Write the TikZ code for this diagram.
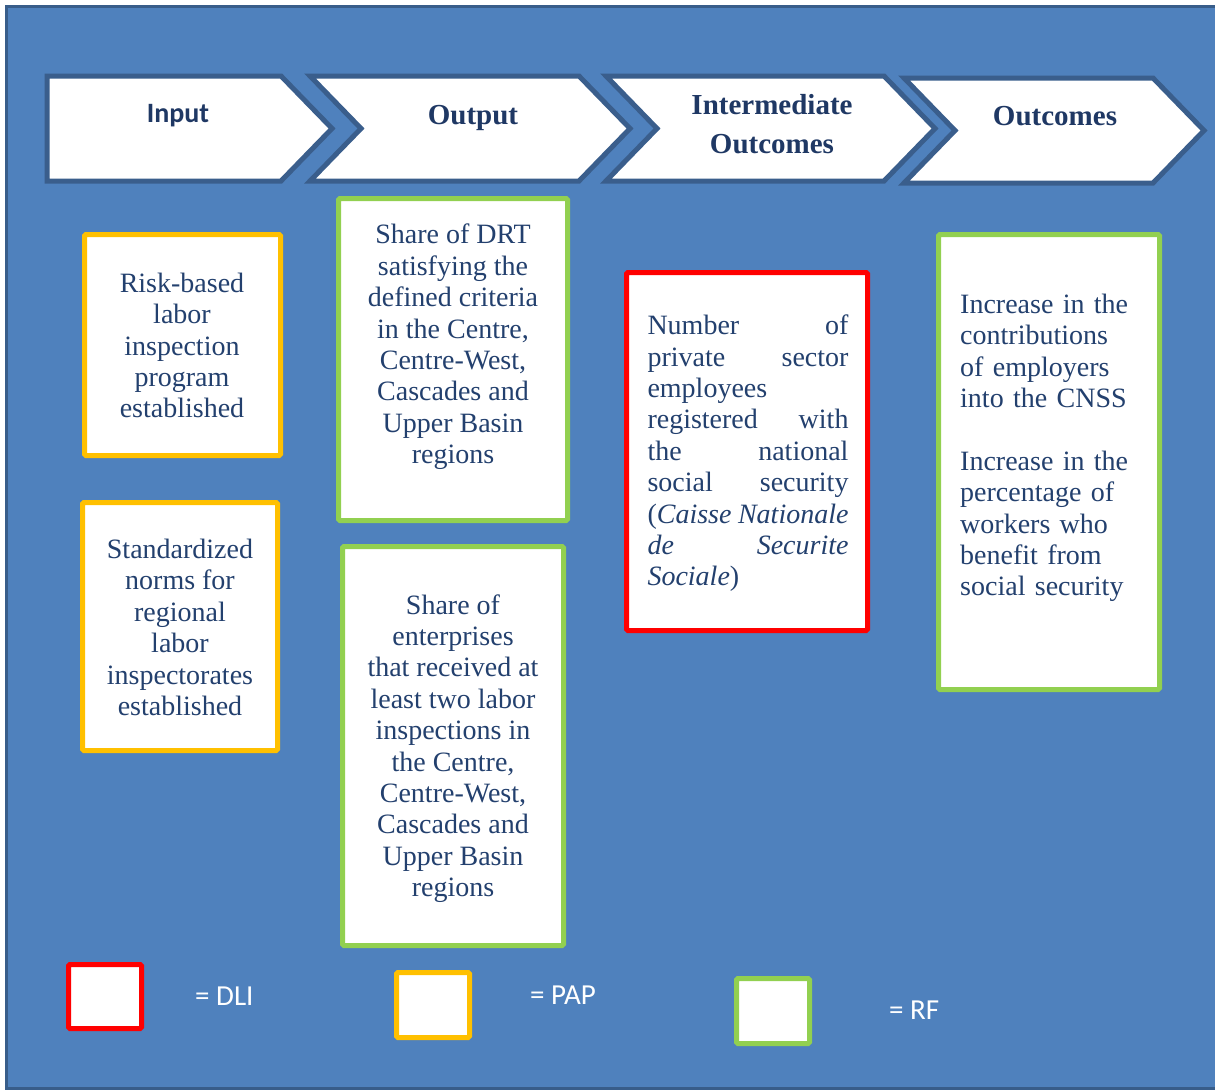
\documentclass[tikz,border=0pt]{standalone}
\usepackage{fontspec}
\setmainfont{Liberation Serif}
\newfontfamily\calib{Carlito}
\definecolor{bgblue}{HTML}{4F81BD}
\definecolor{frameblue}{HTML}{385D8A}
\definecolor{chevborder}{HTML}{3A5E8C}
\definecolor{headtxt}{HTML}{1F3864}
\definecolor{boxtxt}{HTML}{23406E}
\definecolor{pap}{HTML}{FFC000}
\definecolor{rf}{HTML}{92D050}
\definecolor{dli}{HTML}{FF0000}
\newcommand\jline[2]{\makebox[201pt][l]{#1\hfill#2}}
\begin{document}
\begin{tikzpicture}[x=1pt,y=-1pt,
  chev/.style={draw=chevborder,line width=5pt,fill=white,line join=miter},
  headserif/.style={font=\fontsize{29}{39}\selectfont\bfseries,text=headtxt,align=center,anchor=base,inner sep=0pt},
  boxframe/.style={draw=#1,line width=5pt,fill=white,rounded corners=1.5pt,inner sep=0pt},
  boxtext/.style={font=\fontsize{28}{31.4}\selectfont,text=boxtxt,align=center,inner sep=0pt},
  legtext/.style={font=\calib\fontsize{29}{32}\selectfont,text=white,anchor=west,inner sep=0pt}]
\useasboundingbox[fill=white] (0,0) rectangle (1215,1090);
\draw[fill=bgblue,draw=frameblue,line width=3pt] (6,6) rectangle (1220,1088);
% chevrons
\draw[chev] (47,76) -- (281,76) -- (332,128.5) -- (281,181) -- (47,181) -- cycle;
\draw[chev] (310,76) -- (579,76) -- (630,128.5) -- (579,181) -- (310,181) -- (361,128.5) -- cycle;
\draw[chev] (606,76) -- (884,76) -- (935,128.5) -- (884,181) -- (606,181) -- (657,128.5) -- cycle;
\draw[chev] (904,78) -- (1153,78) -- (1204,130.5) -- (1153,183) -- (904,183) -- (955,130.5) -- cycle;
\node[font=\calib\fontsize{28}{32}\selectfont\bfseries,text=headtxt,anchor=base,inner sep=0pt] (hin) at (178,122) {Input};
\node[headserif] (hout) at (473,124.5) {Output};
\node[headserif,anchor=north] (hint) at (772,94) {Intermediate\\Outcomes};
\node[headserif] (houtc) at (1055,125) {Outcomes};
% boxes
\node[boxframe=pap,minimum width=196pt,minimum height=221pt] (b1) at (182.5,345) {};
\node[boxtext] (t1) at (182,345.5) {Risk-based\\labor\\inspection\\program\\established};
\node[boxframe=pap,minimum width=195pt,minimum height=248pt] (b2) at (180,626.5) {};
\node[boxtext] (t2) at (180,627.5) {Standardized\\norms for\\regional\\labor\\inspectorates\\established};
\node[boxframe=rf,minimum width=229pt,minimum height=322pt] (o1) at (453,359.5) {};
\node[boxtext] (t3) at (453,347) {Share of DRT\\satisfying the\\defined criteria\\in the Centre,\\Centre-West,\\Cascades and\\Upper Basin\\regions};
\node[boxframe=rf,minimum width=221pt,minimum height=399pt] (o2) at (453,746) {};
\node[boxtext] (t4) at (453,748.5) {Share of\\enterprises\\that received at\\least two labor\\inspections in\\the Centre,\\Centre-West,\\Cascades and\\Upper Basin\\regions};
\node[boxframe=dli,minimum width=241pt,minimum height=358pt] (r1) at (747,451.5) {};
\node[boxtext,align=left,text width=201pt] (t5) at (748,453.5) {\jline{Number}{of}\\\jline{private}{sector}\\employees\\\jline{registered}{with}\\\jline{the}{national}\\\jline{social}{security}\\\makebox[201pt][l]{(\textit{Caisse}\hspace{4pt plus 1fill}\textit{Nationale}}\\\jline{\textit{de}}{\textit{Securite}}\\\textit{Sociale})};
\node[boxframe=rf,minimum width=221pt,minimum height=455pt] (c1) at (1049,462) {};
\node[boxtext,align=left,text width=200pt,anchor=west] (t6) at (960,448) {Increase in the\\contributions\\of employers\\into the CNSS\\[31.4pt]Increase in the\\percentage of\\workers who\\benefit from\\social security};
% legend
\node[boxframe=dli,minimum width=73pt,minimum height=64pt] (l1) at (105,996.5) {};
\node[legtext] (lt1) at (195,996) {= DLI};
\node[boxframe=pap,minimum width=73pt,minimum height=65pt] (l2) at (433,1005) {};
\node[legtext] (lt2) at (530,995) {= PAP};
\node[boxframe=rf,minimum width=73pt,minimum height=65pt] (l3) at (773,1011) {};
\node[legtext] (lt3) at (889,1010) {= RF};
\end{tikzpicture}
\end{document}
